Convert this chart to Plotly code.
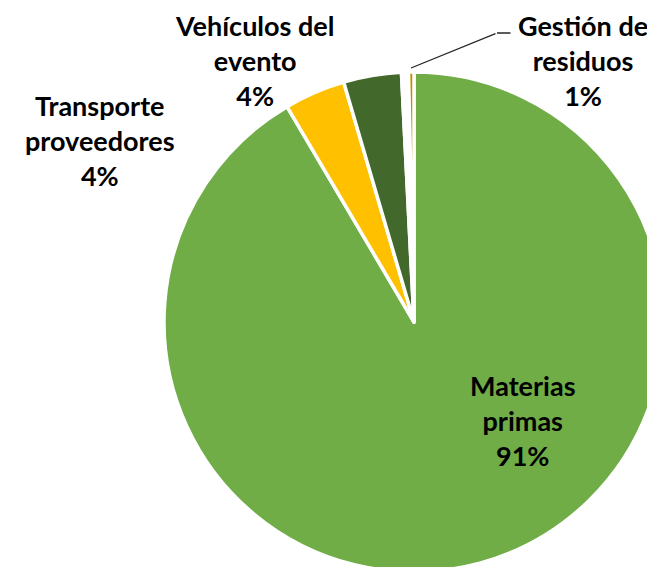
import plotly.graph_objects as go

# ---- data ----
categories = ["Materias primas", "Transporte proveedores", "Vehículos del evento", "", "Gestión de residuos"]
values = [91.52, 3.94, 3.74, 0.45, 0.35]
pct_labels = ["91%", "4%", "4%", "", "1%"]
label_text = ["Materias<br>primas", "Transporte<br>proveedores", "Vehículos del<br>evento", "", "Gestión de<br>residuos"]
colors = ["#70AD47", "#FFC000", "#43682B", "rgba(255,255,255,0)", "#BF8F00"]

# ---- canvas (pie deliberately larger than the visible window, as in the source) ----
W, H = 664, 574
def px(x):
    return x / W
def py(y):
    return 1 - y / H

fig = go.Figure(go.Pie(
    labels=categories,
    values=values,
    sort=False,
    direction="clockwise",
    rotation=0,
    marker=dict(colors=colors, line=dict(color="white", width=3.5)),
    textinfo="none",
    hoverinfo="label+percent",
    showlegend=False,
    domain=dict(x=[px(164), px(664)], y=[py(572), py(72)]),
))

font = dict(family="Lato, Carlito, Calibri, sans-serif", size=27, color="black")
label_pos = {0: (523, 420), 1: (100, 140), 2: (254, 60), 4: (583, 60)}
for i, (x, y) in label_pos.items():
    fig.add_annotation(
        x=px(x), y=py(y), xref="paper", yref="paper",
        text=f"<b>{label_text[i]}<br>{pct_labels[i]}</b>",
        showarrow=False, font=font, align="center",
        xanchor="center", yanchor="middle",
    )

# leader line for the thin slice
fig.add_annotation(x=px(411), y=py(68), xref="paper", yref="paper", text="",
                   showarrow=True, arrowhead=0, arrowwidth=1.3, arrowcolor="#262626",
                   ax=497 - 411, ay=33 - 68)
fig.add_annotation(x=px(497), y=py(33), xref="paper", yref="paper", text="",
                   showarrow=True, arrowhead=0, arrowwidth=1.3, arrowcolor="#262626",
                   ax=512 - 497, ay=0)

fig.update_layout(
    width=W, height=H,
    margin=dict(l=0, r=0, t=0, b=0),
    paper_bgcolor="white", plot_bgcolor="white",
)

fig.write_html("out.html",
               config={"displayModeBar": False},
               post_script="document.body.style.margin='0';document.body.style.overflow='hidden';document.documentElement.style.overflow='hidden';")
